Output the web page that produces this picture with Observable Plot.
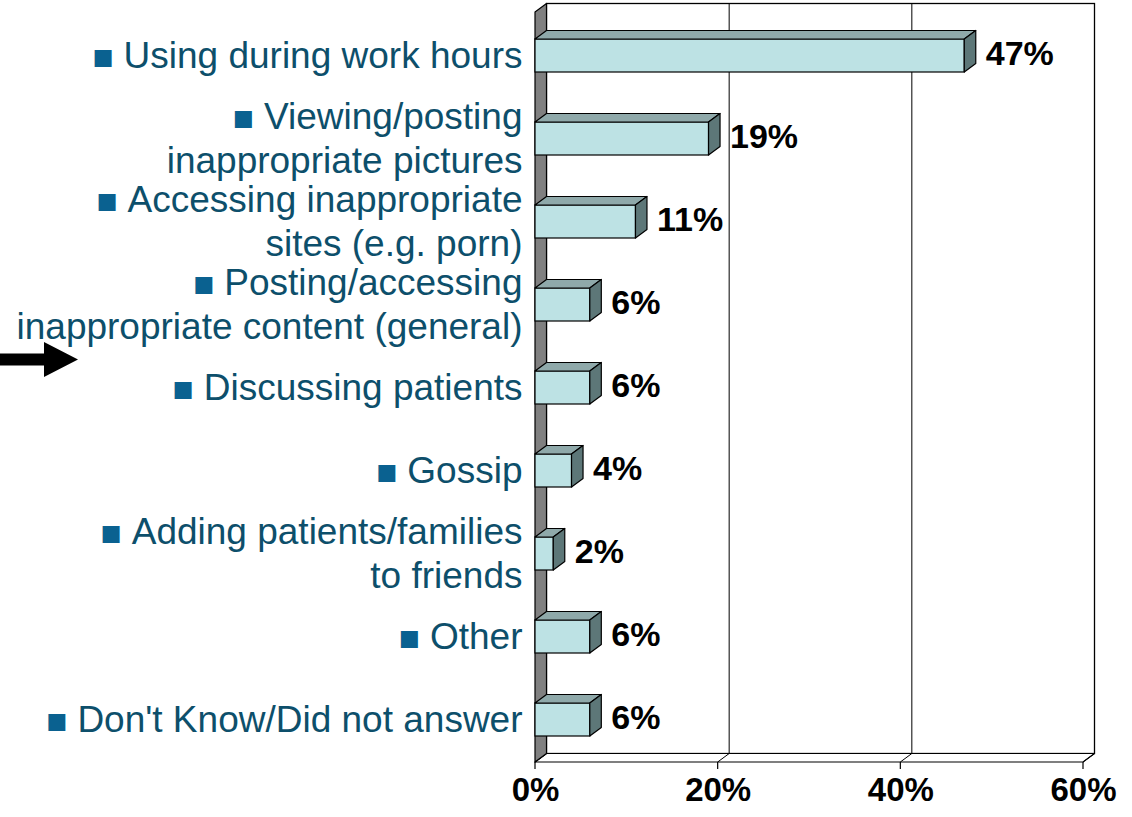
<!DOCTYPE html>
<html><head><meta charset="utf-8">
<script src="https://cdn.jsdelivr.net/npm/d3@7"></script>
<script src="https://cdn.jsdelivr.net/npm/@observablehq/plot@0.6"></script>
<style>
body{margin:0;background:#fff}
#chart svg{display:block}
</style>
</head><body><div id="chart"></div>
<script>
// ---- data ----
const categories = [
  "■ Using during work hours",
  "■ Viewing/posting\ninappropriate pictures",
  "■ Accessing inappropriate\nsites (e.g. porn)",
  "■ Posting/accessing\ninappropriate content (general)",
  "■ Discussing patients",
  "■ Gossip",
  "■ Adding patients/families\nto friends",
  "■ Other",
  "■ Don't Know/Did not answer"
];
const values = [47, 19, 11, 6, 6, 4, 2, 6, 6];
const valueLabels = ["47%", "19%", "11%", "6%", "6%", "4%", "2%", "6%", "6%"];
const ticks = [0, 20, 40, 60];
const tickLabels = ["0%", "20%", "40%", "60%"];
const highlighted = "■ Discussing patients";

const rows = categories.map((c, i) => ({cat: c, value: values[i], label: valueLabels[i]}));
const tickRows = ticks.map((t, i) => ({t, label: tickLabels[i]}));

// ---- style constants ----
const DX = 11.5, DY = 8.5, INSET = 25;
const FONT = "'Liberation Sans', Arial, Helvetica, sans-serif";

function polygon(g, pts, fill) {
  g.append("path")
    .attr("d", "M" + pts.map(p => p.join(",")).join("L") + "Z")
    .attr("fill", fill).attr("stroke", "#000").attr("stroke-width", 1.2)
    .attr("stroke-linejoin", "round");
}

function frameMark(index, scales, values, dim) {
  const {x} = scales;
  const g = d3.create("svg:g");
  const top = dim.marginTop, bottom = dim.height - dim.marginBottom;
  const x0 = x(ticks[0]), x1 = x(ticks[ticks.length - 1]);
  // back wall
  g.append("rect").attr("x", x0 + DX).attr("y", top - DY)
    .attr("width", x1 - x0).attr("height", bottom - top)
    .attr("fill", "#fff").attr("stroke", "#000").attr("stroke-width", 1.3);
  for (const t of ticks.slice(1, -1)) {
    g.append("line").attr("x1", x(t) + DX).attr("x2", x(t) + DX)
      .attr("y1", top - DY).attr("y2", bottom - DY)
      .attr("stroke", "#000").attr("stroke-width", 1);
  }
  // floor
  polygon(g, [[x0, bottom], [x1, bottom], [x1 + DX, bottom - DY], [x0 + DX, bottom - DY]], "#fff");
  for (const t of ticks) {
    g.append("line").attr("x1", x(t)).attr("x2", x(t) + DX)
      .attr("y1", bottom).attr("y2", bottom - DY).attr("stroke", "#000").attr("stroke-width", 1);
    g.append("line").attr("x1", x(t)).attr("x2", x(t))
      .attr("y1", bottom).attr("y2", bottom + 7).attr("stroke", "#000").attr("stroke-width", 1.2);
  }
  // left wall
  polygon(g, [[x0, top], [x0 + DX, top - DY], [x0 + DX, bottom - DY], [x0, bottom]], "#808080");
  return g.node();
}

function bandwidthOf(y) {
  return typeof y.bandwidth === "function" ? y.bandwidth() : y.bandwidth;
}

function facesMark(index, scales) {
  const {x, y} = scales;
  const bw = bandwidthOf(y);
  const g = d3.create("svg:g");
  for (const r of rows) {
    const yt = y(r.cat) + INSET, yb = y(r.cat) + bw - INSET;
    const xa = x(0), xb = x(r.value);
    polygon(g, [[xa, yt], [xb, yt], [xb + DX, yt - DY], [xa + DX, yt - DY]], "#8fa9aa");
    polygon(g, [[xb, yt], [xb + DX, yt - DY], [xb + DX, yb - DY], [xb, yb]], "#5d7778");
  }
  return g.node();
}

function arrowMark(index, scales) {
  const {y} = scales;
  const bw = bandwidthOf(y);
  const yc = y(highlighted) + bw / 2 - 28;
  const g = d3.create("svg:g");
  g.append("path")
    .attr("d", `M0,${yc - 6}L44,${yc - 6}L44,${yc - 17.5}L78,${yc}L44,${yc + 17.5}L44,${yc + 6}L0,${yc + 6}Z`)
    .attr("fill", "#000");
  return g.node();
}

const plot = Plot.plot({
  width: 1132,
  height: 817,
  marginLeft: 535,
  marginRight: 49,
  marginTop: 12,
  marginBottom: 55,
  style: {fontFamily: FONT, background: "#fff"},
  x: {domain: [0, 60], axis: null},
  y: {domain: categories, axis: null, padding: 0},
  marks: [
    frameMark,
    Plot.barX(rows, {x: "value", y: "cat", fill: "#bde2e4", stroke: "#000", strokeWidth: 1.2,
      insetTop: INSET, insetBottom: INSET}),
    facesMark,
    Plot.text(rows, {x: "value", y: "cat", text: "label", textAnchor: "start", dx: 21, dy: -2,
      fontSize: 34, fontWeight: "bold", fill: "#000"}),
    Plot.text(rows, {x: 0, y: "cat", text: "cat", textAnchor: "end", dx: -13, dy: -2, lineHeight: 1.19,
      fontSize: 37, fill: "#0d4f6b"}),
    Plot.text(tickRows, {x: "t", text: "label", frameAnchor: "bottom", dy: 38,
      fontSize: 33, fontWeight: "bold", fill: "#000"}),
    arrowMark
  ]
});

// style bullet glyphs
const walker = document.createTreeWalker(plot, NodeFilter.SHOW_TEXT);
const found = [];
while (walker.nextNode()) if (walker.currentNode.data.startsWith("■")) found.push(walker.currentNode);
for (const node of found) {
  const ns = "http://www.w3.org/2000/svg";
  const b = document.createElementNS(ns, "tspan");
  b.setAttribute("fill", "#0a6190");
  b.setAttribute("font-size", "35");
  b.setAttribute("dy", "1");
  b.textContent = "■";
  const rest = document.createElementNS(ns, "tspan");
  rest.setAttribute("dy", "-1");
  rest.setAttribute("dx", "10");
  rest.textContent = node.data.slice(1).replace(/^ /, "");
  node.parentNode.insertBefore(b, node);
  node.parentNode.insertBefore(rest, node);
  node.parentNode.removeChild(node);
}

document.getElementById("chart").appendChild(plot);
</script>
</body></html>
